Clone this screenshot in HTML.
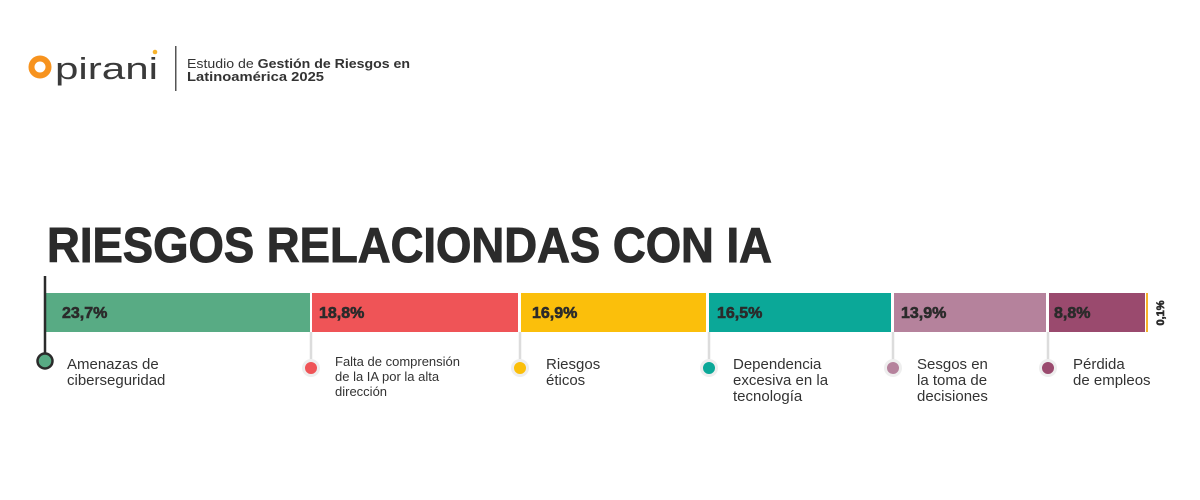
<!DOCTYPE html>
<html><head><meta charset="utf-8"><style>html,body{margin:0;padding:0;background:#fff}svg{display:block}</style></head>
<body>
<svg width="1200" height="500" viewBox="0 0 1200 500" xmlns="http://www.w3.org/2000/svg" font-family="Liberation Sans, sans-serif">
<rect width="1200" height="500" fill="#fff"/>
<!-- logo -->
<circle cx="40" cy="67" r="8.5" fill="none" stroke="#f7931e" stroke-width="6"/>
<text x="55" y="79" font-size="31" fill="#3a3a3a" textLength="103" lengthAdjust="spacingAndGlyphs">pirani</text>
<circle cx="155" cy="52" r="2.3" fill="#f7b32b"/>
<rect x="175" y="46" width="1.5" height="45" fill="#555"/>
<text x="187" y="68" font-size="13" fill="#333" textLength="223" lengthAdjust="spacingAndGlyphs">Estudio de <tspan font-weight="bold">Gestión de Riesgos en</tspan></text>
<text x="187" y="81" font-size="13" fill="#333" font-weight="bold" textLength="137" lengthAdjust="spacingAndGlyphs">Latinoamérica 2025</text>
<!-- title -->
<text x="47" y="262" font-size="49" font-weight="900" fill="#2b2b2b" textLength="725" lengthAdjust="spacingAndGlyphs" stroke="#2b2b2b" stroke-width="1">RIESGOS RELACIONDAS CON IA</text>
<!-- connector lines -->
<g stroke="#dcdcdc" stroke-width="2.5">
<line x1="311" y1="332" x2="311" y2="368"/><line x1="520" y1="332" x2="520" y2="368"/><line x1="709" y1="332" x2="709" y2="368"/><line x1="893" y1="332" x2="893" y2="368"/><line x1="1048" y1="332" x2="1048" y2="368"/>
</g>
<!-- bars -->
<rect x="46" y="293" width="264" height="39" fill="#58ab84"/>
<rect x="312" y="293" width="206" height="39" fill="#ef5457"/>
<rect x="521" y="293" width="185" height="39" fill="#fbbf0b"/>
<rect x="709" y="293" width="182" height="39" fill="#0ba898"/>
<rect x="894" y="293" width="152" height="39" fill="#b5829c"/>
<rect x="1049" y="293" width="96" height="39" fill="#9a4a6e"/>
<rect x="1146" y="293" width="2" height="39" fill="#f7b32b"/>
<line x1="45" y1="276" x2="45" y2="360" stroke="#2b2b2b" stroke-width="2.5"/>
<g font-size="16" font-weight="900" fill="#2b2b2b" stroke="#2b2b2b" stroke-width="0.6">
<text x="62" y="318">23,7%</text><text x="319" y="318">18,8%</text><text x="532" y="318">16,9%</text><text x="717" y="318">16,5%</text><text x="901" y="318">13,9%</text><text x="1054" y="318">8,8%</text>
<text transform="translate(1164,313) rotate(-90)" font-size="11" text-anchor="middle">0,1%</text>
</g>
<!-- dots -->
<circle cx="45" cy="361" r="7.5" fill="#58ab84" stroke="#2b2b2b" stroke-width="2.5"/>
<g stroke="#eeeeee" stroke-width="3">
<circle cx="311" cy="368" r="7.5" fill="#ef5457"/><circle cx="520" cy="368" r="7.5" fill="#fbbf0b"/><circle cx="709" cy="368" r="7.5" fill="#0ba898"/><circle cx="893" cy="368" r="7.5" fill="#b5829c"/><circle cx="1048" cy="368" r="7.5" fill="#9a4a6e"/>
</g>
<g fill="#333">
<text font-size="15" x="67" y="369">Amenazas de</text><text font-size="15" x="67" y="385">ciberseguridad</text>
<text font-size="13" x="335" y="366">Falta de comprensión</text><text font-size="13" x="335" y="381">de la IA por la alta</text><text font-size="13" x="335" y="396">dirección</text>
<text font-size="15" x="546" y="369">Riesgos</text><text font-size="15" x="546" y="385">éticos</text>
<text font-size="15" x="733" y="369">Dependencia</text><text font-size="15" x="733" y="385">excesiva en la</text><text font-size="15" x="733" y="401">tecnología</text>
<text font-size="15" x="917" y="369">Sesgos en</text><text font-size="15" x="917" y="385">la toma de</text><text font-size="15" x="917" y="401">decisiones</text>
<text font-size="15" x="1073" y="369">Pérdida</text><text font-size="15" x="1073" y="385">de empleos</text>
</g>
</svg>
</body></html>
